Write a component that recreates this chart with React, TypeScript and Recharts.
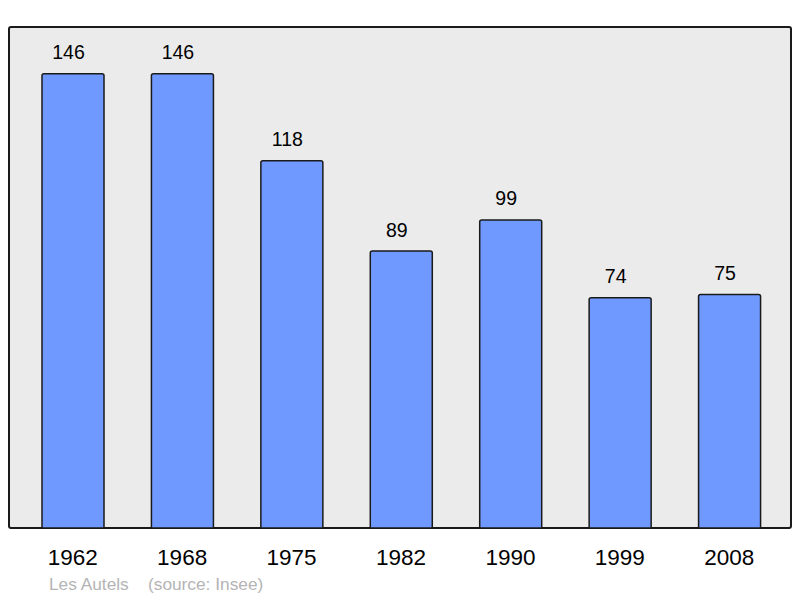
import React from "react";
import { BarChart, Bar, XAxis, YAxis, LabelList } from "recharts";

const years = ["1962", "1968", "1975", "1982", "1990", "1999", "2008"];
const population = [146, 146, 118, 89, 99, 74, 75];
const footerPlace = "Les Autels";
const footerSource = "(source: Insee)";

const data = years.map((y, i) => ({ year: y, value: population[i] }));

const FONT = "'Liberation Sans', Arial, sans-serif";

const ValueLabel = (props: any) => {
  const { x, y, width, value } = props;
  return (
    <text
      x={Number(x) + Number(width) / 2 - 4.5}
      y={Number(y) - 14.5}
      textAnchor="middle"
      fontSize={19.5}
      fill="#000"
      fontFamily={FONT}
    >
      {value}
    </text>
  );
};

export default function App() {
  return (
    <div style={{ position: "absolute", left: 0, top: 0, width: 800, height: 598, background: "#fff", fontFamily: FONT }}>
      <div
        style={{
          position: "absolute",
          left: 8,
          top: 26,
          width: 784,
          height: 503,
          background: "#ebebeb",
          border: "2px solid #1a1a1a",
          borderRadius: 3,
          boxSizing: "border-box",
        }}
      />
      <div style={{ position: "absolute", left: 0, top: 0 }}>
        <BarChart
          width={800}
          height={598}
          data={data}
          margin={{ top: 27, left: 9, right: 9, bottom: 30 }}
        >
          <YAxis hide domain={[0, 161]} />
          <XAxis
            dataKey="year"
            height={40}
            axisLine={false}
            tickLine={false}
            tickSize={0}
            tickMargin={21}
            padding={{ left: 9, right: 7 }}
            tick={{ fontSize: 22.5, fill: "#000", fontFamily: FONT }}
            interval={0}
          />
          <Bar
            dataKey="value"
            fill="#7099ff"
            stroke="#1a1a1a"
            strokeWidth={1.5}
            barSize={62}
            radius={[2, 2, 0, 0]}
            isAnimationActive={false}
          >
            <LabelList dataKey="value" content={ValueLabel} />
          </Bar>
        </BarChart>
      </div>
      <div style={{ position: "absolute", left: 49, top: 574, fontSize: 17.3, color: "#b4b4b4", whiteSpace: "pre", lineHeight: "20px" }}>
        {footerPlace}
      </div>
      <div style={{ position: "absolute", left: 148, top: 574, fontSize: 17.3, color: "#b4b4b4", whiteSpace: "pre", lineHeight: "20px" }}>
        {footerSource}
      </div>
    </div>
  );
}
